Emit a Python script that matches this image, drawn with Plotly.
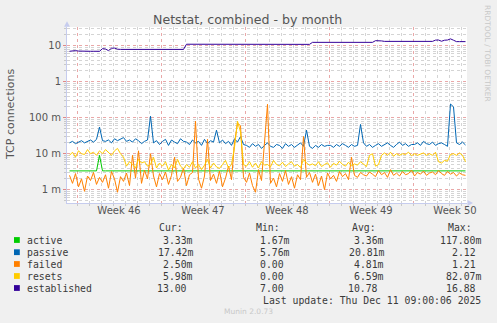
import plotly.graph_objects as go
import pandas as pd

# ---------------- data ----------------
# 6-hourly samples, first at 2025-11-08 09:00, last at 2025-12-11 09:00
start_time = "2025-11-08 09:00"
n_points = 133
times = pd.date_range(start_time, periods=n_points, freq="6h").strftime("%Y-%m-%d %H:%M").tolist()

# values in milli-connections (m)
active_m = [
    3.33, 3.33, 3.33, 3.33, 3.33, 3.33, 3.33, 3.33, 3.33, 3.33,
    9.0, 3.33, 3.33, 3.33, 3.33, 3.33, 3.33, 3.33, 3.33, 3.33,
    3.33, 3.33, 3.33, 3.33, 3.33, 3.33, 3.33, 3.33, 3.33, 3.33,
    3.33, 3.33, 3.33, 3.33, 3.33, 3.33, 3.33, 3.33, 3.33, 3.33,
    3.33, 3.33, 3.33, 3.33, 3.33, 3.33, 3.33, 3.33, 3.33, 3.33,
    3.33, 3.33, 3.33, 3.33, 3.33, 3.33, 3.33, 3.33, 3.33, 3.33,
    3.33, 3.33, 3.33, 3.33, 3.33, 3.33, 3.33, 3.33, 3.33, 3.33,
    3.33, 3.33, 3.33, 3.33, 3.33, 3.33, 3.33, 3.33, 3.33, 3.33,
    3.33, 3.33, 3.33, 3.33, 3.33, 3.33, 3.33, 3.33, 3.33, 3.33,
    3.33, 3.33, 3.33, 3.33, 3.33, 3.33, 3.33, 3.33, 3.33, 3.33,
    3.33, 3.33, 3.33, 3.33, 3.33, 3.33, 3.33, 3.33, 3.33, 3.33,
    3.33, 3.33, 3.33, 3.33, 3.33, 3.33, 3.33, 3.33, 3.33, 3.33,
    3.33, 3.33, 3.33, 3.33, 3.33, 3.33, 3.33, 3.33, 3.33, 3.33,
    3.33, 3.33, 3.33,
]

passive_m = [
    20, 22, 19, 21, 23, 20, 22, 24, 21, 25, 55,
    23, 22, 24, 20, 26, 23, 25, 28, 22, 24, 21, 26, 23, 19, 22, 24,
    110,
    20, 23, 18, 22, 25, 17, 24, 21, 19, 26, 22,
    21, 18, 24, 20, 22, 17, 25, 19, 23, 21, 45, 20, 24, 19, 22, 17, 26, 21, 30, 18,
    17, 15, 19, 16, 18, 14, 17, 20, 16, 15, 18, 17, 14, 19, 16, 18, 15, 17, 20, 16,
    45,
    16, 14, 17, 15, 18, 16, 17,
    17, 15, 18, 16, 19, 17, 15, 18, 16, 17, 65,
    20, 16, 18, 15, 17, 19, 16, 18, 20, 17, 15, 18, 21, 17, 19, 16, 18,
    18, 20, 17, 22, 19, 18, 21, 17, 19, 20, 18, 16, 240, 200, 20, 18, 21, 17.42,
]

failed_m = [
    2.5, 1.5, 2.8, 1.2, 2.0, 0.9, 2.4, 1.8, 3.0, 1.4, 2.2,
    1.6, 2.6, 1.1, 3.2, 2.0, 0.85, 2.3, 1.7, 2.9, 1.3,
    9.0, 2.1, 12, 1.5, 3.5, 2.0, 10, 2.4, 1.2, 2.8,
    1.9, 3.1, 1.4, 2.5, 8.0, 1.7, 2.2, 4.0, 1.3, 2.6,
    3.0, 80, 2.0, 1.1, 2.4, 25, 1.8, 2.7, 1.5, 3.3,
    1.2, 2.1, 4.5, 1.9, 20, 70, 60, 2.2, 1.6, 2.9,
    1.3, 0.85, 3.6, 1.8, 25, 235, 1.5, 2.1, 1.2, 2.8,
    1.7, 3.4, 1.4, 2.3, 1.1, 2.6, 1.9, 30, 2.2, 3.0,
    1.6, 2.7, 1.3, 2.4, 1.0, 2.9, 2.0, 2.5, 1.7, 3.2,
    2.3, 2.8, 1.9, 8.0, 2.5, 2.2, 3.0, 2.6, 2.4, 3.1,
    2.7, 2.3, 3.4, 2.6, 3.0, 2.2, 3.6, 2.5, 2.9, 2.4,
    3.2, 2.6, 2.8, 3.5, 2.4, 3.0, 2.7, 3.3, 2.5, 2.9,
    3.1, 2.6, 3.4, 2.8, 2.5, 3.2, 2.7, 3.0, 2.4, 2.9, 2.6, 2.5,
]

resets_m = [
    9, 11, 8, 12, 10, 9.5, 13, 10, 11, 9, 12,
    10, 13, 11, 9, 12, 14, 10, 8, 4.5,
    6, 5, 4, 7, 5.5, 6, 4.5, 5, 8, 4, 5.5,
    4.5, 6, 3.5, 5, 4, 7, 4.5, 3.8, 5, 4.2,
    6, 4, 5, 3.6, 4.8, 7, 4, 5.5, 4.3, 3.9,
    5, 6.5, 4, 5, 15, 80, 40, 5, 4.5, 6,
    4.2, 5.5, 4, 6, 4.8, 5, 4.3, 6.5, 5, 4.6,
    5.8, 4.4, 5.2, 6, 4.5, 5, 4.1, 7, 5.5, 4.8,
    5.2, 4.6, 6, 4.4, 5, 5.6, 4.2, 5.4, 4.8, 6.2,
    5, 4.5, 5.8, 4.6, 5.2, 4.8, 6, 5, 4.4,
    9, 10,
    4.5, 5,
    9, 10.5, 9, 11, 8.5, 10, 9, 10, 9.5, 11, 8.8, 10, 9, 9.6, 10.5, 9, 10, 9, 11,
    6, 5.5, 6.5, 6.2,
    9.5, 10, 9, 10.5, 9,
    5.98,
]

established = [
    7.0, 7.2, 7.3, 7.1, 7.0, 7.0, 7.0, 7.0, 7.0, 7.0, 7.0,
    8.3, 8.1, 7.3, 8.5, 8.6,
    8.0, 7.9, 7.9, 7.8, 7.9, 8.0, 7.9, 7.9, 7.9, 7.9, 7.9, 8.1,
    7.9, 7.9, 7.9, 7.9, 8.0, 8.1, 7.8, 7.9, 7.9, 7.9, 7.9,
    11.0, 11.0, 11.0, 11.0, 11.0, 11.0, 11.0, 11.0, 11.0, 11.0, 11.0,
    11.4,
    11.0, 11.0, 11.0, 11.0, 11.0, 11.0, 11.0, 11.0, 11.0, 11.0,
    11.0, 11.0, 11.0, 11.0, 11.0, 11.0, 11.0, 11.0, 11.0, 11.0,
    11.0, 11.0, 11.0, 11.0, 11.0, 11.0, 11.0,
    11.4, 10.9, 10.9,
    12.4, 12.4, 12.4, 12.4, 12.4, 12.4, 12.4, 12.4, 12.4, 12.4, 12.4,
    12.4, 12.4, 12.4, 12.4, 12.4, 12.4, 12.4, 12.4, 12.4, 12.4,
    13.8, 13.9, 13.6,
    13.2, 13.2, 13.2, 13.2, 13.2, 13.2, 13.2, 13.2, 13.2, 13.2,
    13.2, 13.2, 13.2, 13.2, 13.2, 13.2, 13.2,
    14.3, 14.4, 13.3, 14.2,
    14.4, 15.5, 14.2,
    13.0, 13.0, 13.0, 13.0,
]

series_names = ["active", "passive", "failed", "resets", "established"]
series_colors = ["#00CC00", "#0066B3", "#FF8000", "#FFCC00", "#330099"]

cur_vals = ["3.33m", "17.42m", "2.50m", "5.98m", "13.00"]
min_vals = ["1.67m", "5.76m", "0.00", "0.00", "7.00"]
avg_vals = ["3.36m", "20.81m", "4.81m", "6.59m", "10.78"]
max_vals = ["117.80m", "2.12", "1.21", "82.07m", "16.88"]

week_starts = ["2025-11-09", "2025-11-16", "2025-11-23", "2025-11-30", "2025-12-07"]
week_label_pos = ["2025-11-12 12:00", "2025-11-19 12:00", "2025-11-26 12:00",
                  "2025-12-03 12:00", "2025-12-10 12:00"]
week_labels = ["Week 46", "Week 47", "Week 48", "Week 49", "Week 50"]
x_range = ["2025-11-08 04:00", "2025-12-11 12:00"]

y_tickvals = [0.001, 0.01, 0.1, 1, 10]
y_ticktext = ["1 m", "10 m", "100 m", "1", "10"]

# ---------------- figure ----------------
W, H = 497, 323
L, R, T, B = 67, 467, 27, 203


def px(x):
    return (x - L) / (R - L)


def py(y):
    return (B - y) / (B - T)


series_values = [
    [v / 1000 for v in active_m],
    [v / 1000 for v in passive_m],
    [v / 1000 for v in failed_m],
    [v / 1000 for v in resets_m],
    established,
]

fig = go.Figure()
for name, col, vals in zip(series_names, series_colors, series_values):
    fig.add_trace(go.Scatter(x=times, y=vals, mode="lines", name=name,
                             line=dict(color=col, width=1),
                             showlegend=False, hoverinfo="skip"))
# carrier for the label axis
fig.add_trace(go.Scatter(x=x_range, y=[None, None], xaxis="x2", mode="lines",
                         showlegend=False, hoverinfo="skip"))

minor_days = pd.date_range("2025-11-08", "2025-12-12", freq="D").strftime("%Y-%m-%d").tolist()
minor_y = [k * 10 ** e for e in range(-4, 2) for k in range(2, 10)]

major_grid = "#E9A8A8"
minor_grid = "#D4D4D4"
axis_col = "#C6CCEE"

fig.update_layout(
    width=W, height=H,
    margin=dict(l=L, r=W - R, t=T, b=H - B, pad=0),
    paper_bgcolor="#F0F0F0", plot_bgcolor="#FFFFFF",
    font=dict(family="DejaVu Sans", color="#555555", size=10),
    showlegend=False,
    xaxis=dict(
        type="date", range=x_range, tickmode="array", tickvals=week_starts,
        ticktext=[""] * len(week_starts), showgrid=True, gridcolor=major_grid,
        griddash="dot", gridwidth=1, ticks="outside", ticklen=3, tickcolor="#E08888",
        showline=True, linecolor=axis_col, linewidth=1, zeroline=False,
        minor=dict(tickmode="array", tickvals=minor_days, showgrid=True,
                   gridcolor=minor_grid, griddash="dot", gridwidth=1,
                   ticks="outside", ticklen=2, tickcolor="#C8C8C8"),
    ),
    xaxis2=dict(
        type="date", range=x_range, overlaying="x", anchor="y", side="bottom",
        tickmode="array", tickvals=week_label_pos, ticktext=week_labels,
        showgrid=False, showline=False, ticks="", zeroline=False,
        tickfont=dict(size=10, color="#555555"),
    ),
    yaxis=dict(
        type="log", range=[-3.37, 1.52], tickmode="array", tickvals=y_tickvals,
        ticktext=y_ticktext, showgrid=True, gridcolor=major_grid, griddash="dot",
        gridwidth=1, ticks="outside", ticklen=3, tickcolor="#E08888",
        showline=True, linecolor=axis_col, linewidth=1, zeroline=False,
        tickfont=dict(size=10, color="#555555"),
        minor=dict(tickmode="array", tickvals=minor_y, showgrid=True,
                   gridcolor=minor_grid, griddash="dot", gridwidth=1,
                   ticks="outside", ticklen=2, tickcolor="#C8C8C8"),
    ),
)

ann = []
shapes = []


def text(x, y, s, size=9.8, color="#3A3A3A", family="DejaVu Sans Mono",
         xanchor="left", angle=0):
    ann.append(dict(x=px(x), y=py(y), xref="paper", yref="paper", text=s,
                    showarrow=False, xanchor=xanchor, yanchor="middle",
                    textangle=angle, borderpad=0,
                    font=dict(size=size, color=color, family=family)))


# title, axis title, side texts
text(247.5, 19, "Netstat, combined - by month", size=12.6, color="#555555",
     family="DejaVu Sans", xanchor="center")
text(10.5, 114.5, "TCP connections", size=11, color="#555555",
     family="DejaVu Sans", xanchor="center", angle=-90)
text(488, 53, "RRDTOOL / TOBI OETIKER", size=7.5, color="#C8C8C8",
     family="DejaVu Sans", xanchor="center", angle=90)
text(248.3, 311.5, "Munin 2.0.73", size=7.5, color="#C8C8C8",
     family="DejaVu Sans", xanchor="center")

# legend table
cw = 5.9
row_y = [240, 252.2, 264, 276, 288]
header_y = 227.5
text(158.3, header_y, "Cur:")
text(254.7, header_y, "Min:")
text(351.0, header_y, "Avg:")
text(446.7, header_y, "Max:")

col_num_right = [187.7, 285.3, 379.2, 476.5]
for i, (name, col) in enumerate(zip(series_names, series_colors)):
    y = row_y[i]
    shapes.append(dict(type="rect", xref="paper", yref="paper",
                       x0=px(14), x1=px(19.8), y0=py(y + 2.9), y1=py(y - 2.9),
                       fillcolor=col, line=dict(width=0)))
    text(26.3, y, name)
    for colvals, nr in zip([cur_vals, min_vals, avg_vals, max_vals], col_num_right):
        s = colvals[i]
        right = nr + (cw if s.endswith("m") else 0)
        text(right, y, s, xanchor="right")

text(261.7, 300, "Last update: Thu Dec 11 09:00:06 2025")

# axis arrows
shapes.append(dict(type="path", xref="paper", yref="paper",
                   path=f"M {px(64)},{py(26.8)} L {px(67)},{py(21.3)} L {px(70)},{py(26.8)} Z",
                   fillcolor=axis_col, line=dict(width=0)))
shapes.append(dict(type="path", xref="paper", yref="paper",
                   path=f"M {px(467.5)},{py(200)} L {px(473)},{py(203)} L {px(467.5)},{py(206)} Z",
                   fillcolor=axis_col, line=dict(width=0)))

fig.update_layout(annotations=ann, shapes=shapes)

fig.write_html("out.html", config={"displayModeBar": False})
